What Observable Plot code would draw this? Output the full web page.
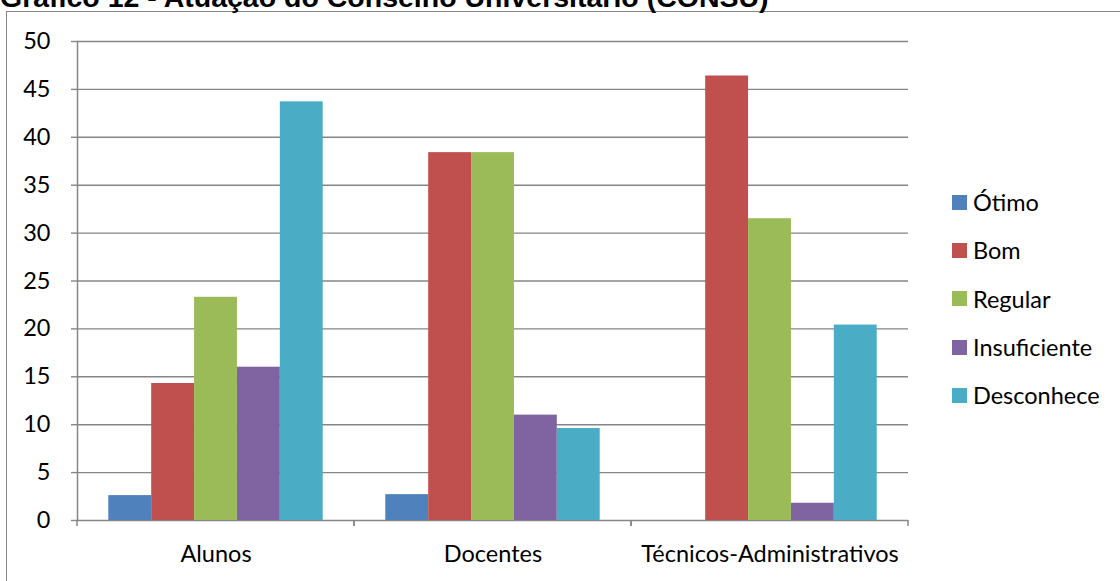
<!DOCTYPE html>
<html><head><meta charset="utf-8">
<script src="https://cdn.jsdelivr.net/npm/d3@7"></script>
<script src="https://cdn.jsdelivr.net/npm/@observablehq/plot@0.6"></script>
<style>
body{margin:0;width:1120px;height:581px;overflow:hidden;position:relative;background:#fff;font-family:Lato,sans-serif}
#title{position:absolute;left:0;top:-17px;font:bold 28.5px "Liberation Sans",Arial,sans-serif;line-height:1;white-space:nowrap;color:#000}
#box{position:absolute;left:6px;top:11px;width:1300px;height:700px;border:1px solid #868686}
#chart{position:absolute;left:0;top:0}
#legend{position:absolute;left:952px;top:178px}
.item{height:48.3px;display:flex;align-items:center;font-size:23.5px;color:#000;white-space:nowrap}
.sw{width:15px;height:15px;margin-right:6px;flex:none}
</style></head><body>
<div id="box"></div>
<div id="title">Gráfico 12 - Atuação do Conselho Universitário (CONSU)</div>
<div id="chart"></div>
<div id="legend"></div>
<script>
const categories = ["Alunos", "Docentes", "Técnicos-Administrativos"];
const series = ["Ótimo", "Bom", "Regular", "Insuficiente", "Desconhece"];
const otimo = [2.6, 2.7, 0];
const bom = [14.3, 38.4, 46.4];
const regular = [23.3, 38.4, 31.5];
const insuficiente = [16.0, 11.0, 1.8];
const desconhece = [43.7, 9.6, 20.4];
const colors = ["#4F81BD", "#C0504D", "#9BBB59", "#8064A2", "#4BACC6"];
const yTicks = [0, 5, 10, 15, 20, 25, 30, 35, 40, 45, 50];

const valuesBySeries = [otimo, bom, regular, insuficiente, desconhece];
const data = [];
categories.forEach((c, ci) => series.forEach((s, si) => data.push({category: c, series: s, value: valuesBySeries[si][ci]})));

const gray = "#868686";

function boundaryTicks(index, scales) {
  const [x0, x1] = scales.x.range();
  const y0 = scales.y(0);
  const g = d3.create("svg:g");
  for (const x of [x0, x1]) {
    g.append("line").attr("x1", x).attr("x2", x).attr("y1", y0).attr("y2", y0 + 6)
      .attr("stroke", gray).attr("stroke-width", 1.5);
  }
  return g.node();
}

const chart = Plot.plot({
  width: 930,
  height: 581,
  marginLeft: 76,
  marginRight: 21,
  marginTop: 41,
  marginBottom: 61,
  style: {fontFamily: "Lato, sans-serif", fontSize: "23.5px", background: "transparent", color: "#000"},
  fx: {domain: categories, padding: 0, label: null},
  x: {domain: series, paddingInner: 0, paddingOuter: 0.73, axis: null, round: false},
  y: {domain: [0, 50], label: null},
  color: {domain: series, range: colors},
  marks: [
    Plot.ruleY(yTicks, {stroke: gray, strokeWidth: 1.4}),
    Plot.barY(data, {fx: "category", x: "series", y: "value", fill: "series"}),
    Plot.frame({anchor: "left", facetAnchor: "left", stroke: gray, strokeWidth: 1.5}),
    boundaryTicks,
    Plot.axisY({ticks: yTicks, tickSize: 6, tickPadding: 21, stroke: gray, strokeWidth: 1.4, fill: "#000", label: null, tickFormat: d => String(d)}),
    Plot.axisFx({anchor: "bottom", tickSize: 0, tickPadding: 25, label: null, fill: "#000"})
  ]
});
document.getElementById("chart").appendChild(chart);

const legend = d3.select("#legend");
series.forEach((s, i) => {
  const row = legend.append("div").attr("class", "item");
  row.append("div").attr("class", "sw").style("background", colors[i]);
  row.append("span").text(s);
});
</script>
</body></html>
